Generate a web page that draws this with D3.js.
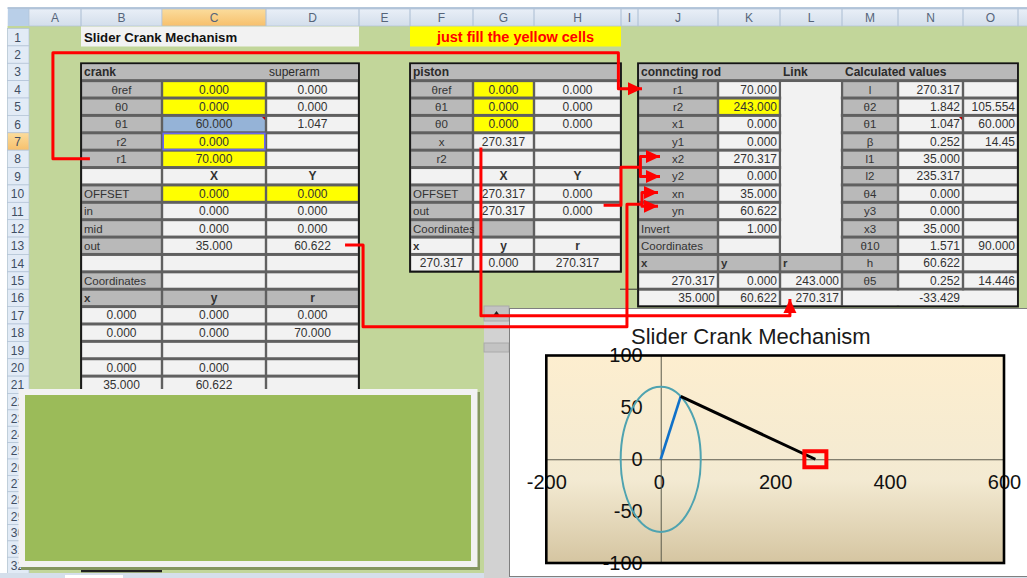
<!DOCTYPE html>
<html>
<head>
<meta charset="utf-8">
<title>Slider Crank Mechanism</title>
<script src="https://cdnjs.cloudflare.com/ajax/libs/d3/7.8.5/d3.min.js"></script>
<style>
  html, body { margin: 0; padding: 0; background: #fff; overflow: hidden; }
  svg { display: block; font-family: "Liberation Sans", Arial, sans-serif; }
</style>
</head>
<body>
<svg id="sheet" width="1027" height="578"></svg>
<script>
// ---- worksheet contents ----
const columnLetters = ["A","B","C","D","E","F","G","H","I","J","K","L","M","N","O","P"];
const rowNumbers = d3.range(1, 33);
const activeColumn = "C";
const activeRow = 7;

const sheetTitle = "Slider Crank Mechanism";
const sheetHint = "just fill the yellow cells";

// Cell roles: L label, O left label, V value, I input, A active, B bold value, H bold heading, E bold left value
const crankHeading = ["crank", "", "superarm"];
const crankRows = [
  ["θref","0.000","0.000"],
  ["θ0","0.000","0.000"],
  ["θ1","60.000","1.047"],
  ["r2","0.000",""],
  ["r1","70.000",""],
  ["","X","Y"],
  ["OFFSET","0.000","0.000"],
  ["in","0.000","0.000"],
  ["mid","0.000","0.000"],
  ["out","35.000","60.622"],
  ["","",""],
  ["Coordinates","",""],
  ["x","y","r"],
  ["0.000","0.000","0.000"],
  ["0.000","0.000","70.000"],
  ["","",""],
  ["0.000","0.000",""],
  ["35.000","60.622",""],
  ["","",""]
];
const crankRoles = ["LIV","LIV","LAV","LIV","LIV","VBB","OII","OVV","OVV","OVV","VVV","OVV","FHH","VVV","VVV","VVV","VVV","VVV","VVV"];

const pistonHeading = ["piston", "", ""];
const pistonRows = [
  ["θref","0.000","0.000"],
  ["θ1","0.000","0.000"],
  ["θ0","0.000","0.000"],
  ["x","270.317",""],
  ["r2","",""],
  ["","X","Y"],
  ["OFFSET","270.317","0.000"],
  ["out","270.317","0.000"],
  ["Coordinates","",""],
  ["x","y","r"],
  ["270.317","0.000","270.317"]
];
const pistonRoles = ["LIV","LIV","LIV","LVV","LVV","VBB","OVV","OVV","OLV","EBB","VVV"];

const rodHeading = ["conncting rod", "", "Link", "Calculated values", "", ""];
const rodRows = [
  ["r1","70.000","","l","270.317",""],
  ["r2","243.000","","θ2","1.842","105.554"],
  ["x1","0.000","","θ1","1.047","60.000"],
  ["y1","0.000","","β","0.252","14.45"],
  ["x2","270.317","","l1","35.000",""],
  ["y2","0.000","","l2","235.317",""],
  ["xn","35.000","","θ4","0.000",""],
  ["yn","60.622","","y3","0.000",""],
  ["Invert","1.000","","x3","35.000",""],
  ["Coordinates","","","θ10","1.571","90.000"],
  ["x","y","r","h","60.622",""],
  ["270.317","0.000","243.000","θ5","0.252","14.446"],
  ["35.000","60.622","270.317","","",""]
];
const rodRoles = ["LVVLVV","LIVLVV","LVVLVV","LVVLVV","LVVLVV","LVVLVV","LVVLVV","LVVLVV","OVVLVV","OVVLVV","GGGLVV","VVVLVV","VVVVVV"];
const offsetResult = "-33.429";

// ---- plotted mechanism ----
const chartTitle = "Slider Crank Mechanism";
const xTickValues = [-200, 0, 200, 400, 600];
const yTickValues = [-100, -50, 0, 50, 100];
const crankArmX = [0, 35.000];
const crankArmY = [0, 60.622];
const connectingRodX = [35.000, 270.317];
const connectingRodY = [60.622, 0];
const pistonX = 270.317;
const pistonY = 0;
const crankRadius = 70.000;

// ---- red dependency arrows, waypoints in sheet coordinates [column number, row number] ----
const arrowFromR1 = [[1.11,8.5],[0.46,8.5],[0.46,2.4],[7.97,2.4],[7.97,4.47],[9.05,4.47]];
const arrowToX2 = [[7.8,11.17],[8.0,11.17],[8.0,8.99],[9.03,8.99],[9.03,8.36],[9.275,8.36]];
const arrowToY2 = [[9.03,8.99],[9.03,9.51],[9.275,9.51]];
const arrowToLink = [[6.13,7.85],[6.13,17.53],[11.16,17.53],[11.16,16.56]];
const arrowToXn = [[3.85,13.46],[4.08,13.46],[4.08,18.16],[8.35,18.16],[8.35,11.11],[9.05,11.11],[9.05,10.43],[9.25,10.43]];
const arrowToYn = [[9.05,11.11],[9.05,11.23],[9.25,11.23]];
const dependencyArrows = [arrowFromR1, arrowToX2, arrowToY2, arrowToLink, arrowToXn, arrowToYn];

// ---- sheet geometry ----
const columnEdges = [29,81,162,266,359,410,473,534,621,638,718,780,842,898,963,1018,1090];
const sheetX = d3.scaleLinear().domain(d3.range(columnEdges.length)).range(columnEdges);
const sheetY = d3.scaleLinear().domain([1, 22, 34]).range([28.5, 393.5, 590]);
const colOf = letter => columnLetters.indexOf(letter);

const svg = d3.select("#sheet");
const defs = svg.append("defs");

// worksheet ground
svg.append("rect").attr("x", 0).attr("y", 26).attr("width", 1027).attr("height", 552).attr("fill", "#c2d69a");
svg.append("rect").attr("x", 0).attr("y", 0).attr("width", 7.5).attr("height", 578).attr("fill", "#fff");

// column header band
const headerGrad = defs.append("linearGradient").attr("id", "hdr").attr("x2", 0).attr("y2", 1);
headerGrad.append("stop").attr("offset", 0).attr("stop-color", "#eaf0f8");
headerGrad.append("stop").attr("offset", 1).attr("stop-color", "#d3deeb");
const activeGrad = defs.append("linearGradient").attr("id", "hdrActive").attr("x2", 0).attr("y2", 1);
activeGrad.append("stop").attr("offset", 0).attr("stop-color", "#fbdc9c");
activeGrad.append("stop").attr("offset", 1).attr("stop-color", "#f7c06c");

svg.append("rect").attr("x", 7.5).attr("y", 8).attr("width", 1020).attr("height", 18).attr("fill", "url(#hdr)");
svg.append("line").attr("x1", 7.5).attr("x2", 1027).attr("y1", 8).attr("y2", 8).attr("stroke", "#9db4cf").attr("stroke-width", 1.5);
svg.append("rect").attr("x", 8).attr("y", 9).attr("width", 21).attr("height", 17).attr("fill", "#b9cfe8");

const colHeads = svg.append("g").selectAll("g").data(columnLetters).join("g");
colHeads.append("rect")
  .attr("x", d => sheetX(colOf(d))).attr("y", 9)
  .attr("width", d => sheetX(colOf(d) + 1) - sheetX(colOf(d))).attr("height", 17)
  .attr("fill", d => d === activeColumn ? "url(#hdrActive)" : "none")
  .attr("stroke", "#b3c3d8").attr("stroke-width", 0.7);
colHeads.append("text")
  .attr("x", d => d === "P" ? -50 : (sheetX(colOf(d)) + sheetX(colOf(d) + 1)) / 2).attr("y", 22)
  .attr("text-anchor", "middle").attr("font-size", 12).attr("fill", "#56657a")
  .text(d => d === "P" ? "" : d);

// row header strip
svg.append("rect").attr("x", 7.5).attr("y", sheetY(33)).attr("width", 21.5).attr("height", 20).attr("fill", "#e2ebf6");
const rowHeads = svg.append("g").selectAll("g").data(rowNumbers).join("g");
rowHeads.append("rect")
  .attr("x", 7.5).attr("y", d => sheetY(d)).attr("width", 21.5)
  .attr("height", d => sheetY(d + 1) - sheetY(d))
  .attr("fill", d => d === activeRow ? "url(#hdrActive)" : "#e2ebf6")
  .attr("stroke", "#b3c3d8").attr("stroke-width", 0.7);
rowHeads.append("text")
  .attr("x", 17.5).attr("y", d => (sheetY(d) + sheetY(d + 1)) / 2 + 4.5)
  .attr("text-anchor", "middle").attr("font-size", 12).attr("fill", "#3f4e63")
  .text(d => d);

// banner cells in row 1
svg.append("rect").attr("x", sheetX(1)).attr("y", 26.5).attr("width", sheetX(4) - sheetX(1)).attr("height", 20).attr("fill", "#f2f2f2");
svg.append("text").attr("x", sheetX(1) + 3).attr("y", 42).attr("font-size", 13.2).attr("font-weight", 700).attr("fill", "#111").text(sheetTitle);
svg.append("rect").attr("x", sheetX(5)).attr("y", 26.5).attr("width", sheetX(8) - sheetX(5)).attr("height", 20).attr("fill", "#ffff00");
svg.append("text").attr("x", (sheetX(5) + sheetX(8)) / 2).attr("y", 42).attr("text-anchor", "middle").attr("font-size", 14.5).attr("font-weight", 700).attr("fill", "#ff0000").text(sheetHint);

// ---- bordered tables ----
const roleFill = { L:"#b9b9b9", O:"#b9b9b9", G:"#b9b9b9", H:"#b9b9b9", F:"#b9b9b9", V:"#f2f2f2", B:"#f2f2f2", E:"#f2f2f2", I:"#ffff00", A:"#95b3d7" };
const roleWeight = r => "BHFEG".includes(r) ? 700 : 400;

function drawTable({ firstCol, firstRow, heading, rows, roles, valueAnchor }) {
  const g = svg.append("g");
  const colCount = heading.length;
  const lastRow = firstRow + rows.length + 1;
  const left = sheetX(firstCol), right = sheetX(firstCol + colCount);
  g.append("rect").attr("x", left).attr("y", sheetY(firstRow))
    .attr("width", right - left).attr("height", sheetY(lastRow) - sheetY(firstRow))
    .attr("fill", "#606060").attr("stroke", "#141414").attr("stroke-width", 1.8);
  g.append("rect").attr("x", left + 1).attr("y", sheetY(firstRow) + 1)
    .attr("width", right - left - 2).attr("height", sheetY(firstRow + 1) - sheetY(firstRow) - 2.5)
    .attr("fill", "#b9b9b9");
  g.selectAll("text.head").data(heading).join("text").attr("class", "head")
    .attr("x", (d, i) => sheetX(firstCol + i) + 3).attr("y", sheetY(firstRow) + 13)
    .attr("font-size", 12).attr("font-weight", d => d === "superarm" ? 400 : 700)
    .attr("fill", "#2b2b2b").text(d => d);

  const cells = rows.flatMap((row, r) => row.map((text, c) => ({ text, r, c, role: roles[r][c] })));
  const cell = g.selectAll("g.cell").data(cells).join("g").attr("class", "cell");
  cell.append("rect")
    .attr("x", d => sheetX(firstCol + d.c) + 1.2)
    .attr("y", d => sheetY(firstRow + 1 + d.r) + 1.5)
    .attr("width", d => sheetX(firstCol + d.c + 1) - sheetX(firstCol + d.c) - 2.4)
    .attr("height", d => sheetY(firstRow + 2 + d.r) - sheetY(firstRow + 1 + d.r) - 3)
    .attr("fill", d => roleFill[d.role]);
  cell.append("text")
    .attr("y", d => (sheetY(firstRow + 1 + d.r) + sheetY(firstRow + 2 + d.r)) / 2 + 4.2)
    .attr("x", d => {
      const a = sheetX(firstCol + d.c), b = sheetX(firstCol + d.c + 1);
      if ("OFEG".includes(d.role)) return a + 3;
      if (valueAnchor === "end" && d.role !== "L") return b - 3;
      return (a + b) / 2;
    })
    .attr("text-anchor", d => {
      if ("OFEG".includes(d.role)) return "start";
      return valueAnchor === "end" && d.role !== "L" ? "end" : "middle";
    })
    .attr("font-size", d => d.role === "L" || "OFEG".includes(d.role) ? 11.5 : 12)
    .attr("font-weight", d => roleWeight(d.role))
    .attr("fill", "#333")
    .text(d => d.text);
  return g;
}

drawTable({ firstCol: colOf("B"), firstRow: 3, heading: crankHeading, rows: crankRows, roles: crankRoles, valueAnchor: "middle" });
drawTable({ firstCol: colOf("F"), firstRow: 3, heading: pistonHeading, rows: pistonRows, roles: pistonRoles, valueAnchor: "middle" });
const rodTable = drawTable({ firstCol: colOf("J"), firstRow: 3, heading: rodHeading, rows: rodRows, roles: rodRoles, valueAnchor: "end" });

// merged cells of the connecting rod table
rodTable.append("rect").attr("x", sheetX(colOf("L")) + 1.2).attr("y", sheetY(4) + 1.5)
  .attr("width", sheetX(colOf("M")) - sheetX(colOf("L")) - 2.4).attr("height", sheetY(14) - sheetY(4) - 3).attr("fill", "#f2f2f2");
rodTable.append("rect").attr("x", sheetX(colOf("M")) + 1.2).attr("y", sheetY(16) + 1.5)
  .attr("width", sheetX(colOf("P")) - sheetX(colOf("M")) - 2.4).attr("height", sheetY(17) - sheetY(16) - 3).attr("fill", "#f2f2f2");
rodTable.append("text").attr("x", sheetX(colOf("O")) - 3).attr("y", (sheetY(16) + sheetY(17)) / 2 + 4.2)
  .attr("text-anchor", "end").attr("font-size", 12).attr("fill", "#333").text(offsetResult);

// active-cell outline and comment flags
svg.append("rect").attr("x", sheetX(colOf("C")) + 1.2).attr("y", sheetY(7) + 0.6)
  .attr("width", sheetX(colOf("D")) - sheetX(colOf("C")) - 2.4).attr("height", sheetY(8) - sheetY(7) - 1.2)
  .attr("fill", "none").attr("stroke", "#6a6af0").attr("stroke-width", 1.6);
const flagCorners = [["D", 6], ["O", 6]];
svg.append("g").selectAll("path").data(flagCorners).join("path")
  .attr("d", d => {
    const x = sheetX(colOf(d[0])) - 1, y = sheetY(d[1]) + 1.5;
    return d3.line()([[x - 3, y], [x, y], [x, y + 3]]) + "Z";
  })
  .attr("fill", "#c00000");

// stray cell borders beside the connecting rod table
svg.append("line").attr("x1", 620).attr("x2", sheetX(colOf("J"))).attr("y1", sheetY(16)).attr("y2", sheetY(16)).attr("stroke", "#333");
svg.append("line").attr("x1", sheetX(colOf("B"))).attr("x2", sheetX(colOf("C"))).attr("y1", 571).attr("y2", 571).attr("stroke", "#222").attr("stroke-width", 2.5);

// floating green panel
svg.append("rect").attr("x", 21).attr("y", 392).attr("width", 459).attr("height", 178).attr("fill", "#84965f");
svg.append("rect").attr("x", 18.5).attr("y", 389).attr("width", 459).attr("height", 178).attr("fill", "#f2f2f2");
svg.append("rect").attr("x", 25).attr("y", 395).attr("width", 446).attr("height", 166).attr("fill", "#9bbb59");

// sheet tab bar
svg.append("rect").attr("x", 0).attr("y", 573).attr("width", 1027).attr("height", 5).attr("fill", "#d5dfeb");
svg.append("rect").attr("x", 65).attr("y", 575).attr("width", 58).attr("height", 3).attr("fill", "#fff");

// scroll bar next to the chart
svg.append("rect").attr("x", 484).attr("y", 306).attr("width", 25).attr("height", 272).attr("fill", "#d2d2d2");
svg.append("rect").attr("x", 484).attr("y", 306).attr("width", 25).attr("height", 15).attr("fill", "#c3c3c3").attr("stroke", "#aaa");
svg.append("path").attr("d", d3.line()([[492, 317], [501, 317], [496.5, 311]]) + "Z").attr("fill", "#222");
svg.append("rect").attr("x", 484).attr("y", 343).attr("width", 25).attr("height", 9).attr("fill", "#c3c3c3").attr("stroke", "#aaa");

// ---- embedded chart ----
svg.append("rect").attr("x", 509.5).attr("y", 308.5).attr("width", 518).attr("height", 268)
  .attr("fill", "#fff").attr("stroke", "#7f7f7f");
svg.append("text").attr("x", 631).attr("y", 344).attr("font-size", 22).attr("fill", "#1a1a1a").text(chartTitle);

const x = d3.scaleLinear().domain([-200, 600]).range([546.3, 1004]);
const y = d3.scaleLinear().domain([-100, 100]).range([563, 355.5]);

const plotGrad = defs.append("linearGradient").attr("id", "plotFill").attr("x2", 0).attr("y2", 1);
plotGrad.append("stop").attr("offset", 0).attr("stop-color", "#fdeecf");
plotGrad.append("stop").attr("offset", 0.6).attr("stop-color", "#f3ead2");
plotGrad.append("stop").attr("offset", 1).attr("stop-color", "#d5c5a1");

svg.append("rect").attr("x", x(-200)).attr("y", y(100))
  .attr("width", x(600) - x(-200)).attr("height", y(-100) - y(100)).attr("fill", "url(#plotFill)");

// tick labels keep a plain hyphen for negatives
const plainTick = d => String(d);
const xAxis = svg.append("g").attr("transform", `translate(0,${y(0)})`)
  .call(d3.axisBottom(x).tickValues(xTickValues).tickSize(0).tickPadding(16).tickFormat(plainTick));
const yAxis = svg.append("g").attr("transform", `translate(${x(0)},0)`)
  .call(d3.axisLeft(y).tickValues(yTickValues).tickSize(0).tickPadding(18).tickFormat(plainTick));
[xAxis, yAxis].forEach(a => {
  a.attr("font-family", null).attr("font-size", null);
  a.selectAll("text").attr("font-size", 20).attr("fill", "#111");
  a.select(".domain").attr("stroke", "#5b5a4c").attr("stroke-width", 1);
});
xAxis.selectAll("g.tick").filter(d => d === 0).select("text").attr("dx", -2);

const xy = d3.line().x(d => x(d[0])).y(d => y(d[1]));
const zipped = (xs, ys) => d3.zip(xs, ys);

svg.append("ellipse").attr("cx", x(0)).attr("cy", y(0))
  .attr("rx", x(crankRadius) - x(0)).attr("ry", y(0) - y(crankRadius))
  .attr("fill", "none").attr("stroke", "#4fa3b0").attr("stroke-width", 2);
svg.append("path").attr("d", xy(zipped(crankArmX, crankArmY))).attr("fill", "none").attr("stroke", "#1071c9").attr("stroke-width", 2.6);
svg.append("path").attr("d", xy(zipped(connectingRodX, connectingRodY))).attr("fill", "none").attr("stroke", "#000").attr("stroke-width", 3);
svg.append("rect").attr("x", x(pistonX) - 11).attr("y", y(pistonY) - 8).attr("width", 22).attr("height", 16)
  .attr("fill", "none").attr("stroke", "#ff0000").attr("stroke-width", 4);

svg.append("rect").attr("x", x(-200)).attr("y", y(100))
  .attr("width", x(600) - x(-200)).attr("height", y(-100) - y(100))
  .attr("fill", "none").attr("stroke", "#000").attr("stroke-width", 2.6);

// ---- dependency arrows over everything ----
const arrowLine = d3.line().x(d => sheetX(d[0])).y(d => sheetY(d[1]));
const arrows = svg.append("g").selectAll("g").data(dependencyArrows).join("g");
arrows.append("path").attr("d", d => arrowLine(d)).attr("fill", "none")
  .attr("stroke", "#ff0000").attr("stroke-width", 3).attr("stroke-linejoin", "round");
arrows.append("path").attr("fill", "#ff0000").attr("d", d => {
  const [ax, ay] = d[d.length - 2], [bx, by] = d[d.length - 1];
  const p = [sheetX(ax), sheetY(ay)], q = [sheetX(bx), sheetY(by)];
  const len = Math.hypot(q[0] - p[0], q[1] - p[1]);
  const ux = (q[0] - p[0]) / len, uy = (q[1] - p[1]) / len;
  const head = 14, half = 6.5;
  const base = [q[0] - ux * head, q[1] - uy * head];
  return d3.line()([q, [base[0] - uy * half, base[1] + ux * half], [base[0] + uy * half, base[1] - ux * half]]) + "Z";
});
</script>
</body>
</html>
